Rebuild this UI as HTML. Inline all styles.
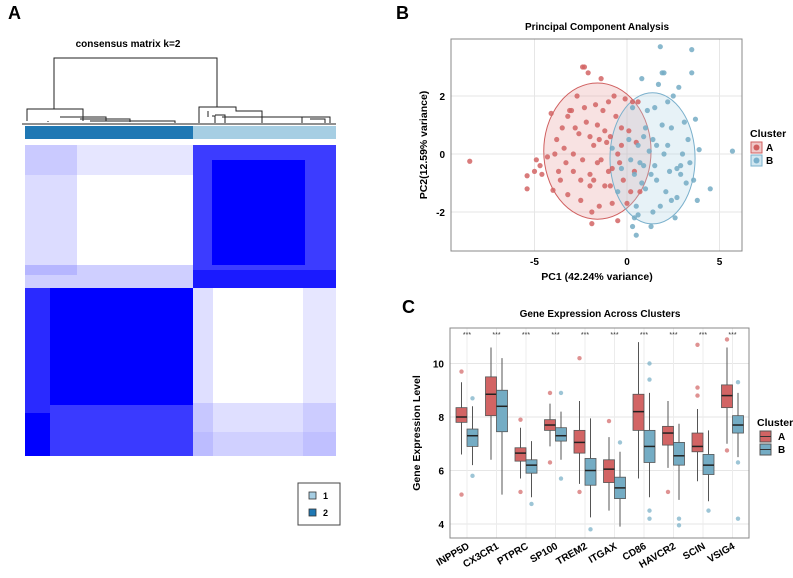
<!DOCTYPE html>
<html><head><meta charset="utf-8">
<style>
html,body{margin:0;padding:0;background:#fff;}
body{width:793px;height:573px;overflow:hidden;font-family:"Liberation Sans",Arial,sans-serif;}
svg text{font-family:"Liberation Sans",Arial,sans-serif;}
</style></head>
<body>
<svg id="fig" width="793" height="573" viewBox="0 0 793 573" xmlns="http://www.w3.org/2000/svg">
<!-- Panel A -->
<g>
<text x="8" y="19" font-size="18" font-weight="bold">A</text>
<text x="128" y="47" font-size="10" font-weight="bold" text-anchor="middle">consensus matrix k=2</text>
<g stroke="#222" stroke-width="1" fill="none">
<path d="M54,109 V58 H217 V107"/>
<path d="M27,121 V109 H83 V121"/>
<path d="M48,121 V122 M60,117 H106 V121 M80,119 H130 V122 M90,121 H175 V123"/>
<path d="M199,123 V107 H236 V111 H262 V123"/>
<path d="M208,111 V117 M212,116 H215 V123 M215,115 H225 V123 M222,117 H330 V123 M302,117 V123 M310,119 H325 V123"/>
<path d="M22,124 H336"/>
</g>
<rect x="25" y="126" width="168" height="13" fill="#1f78b4"/>
<rect x="193" y="126" width="143" height="13" fill="#a6cee3"/>
<g>
<rect x="25" y="145" width="168" height="143" fill="#ffffff"/>
<rect x="25" y="145" width="52" height="130" fill="#8080ff" opacity="0.28"/>
<rect x="25" y="145" width="168" height="30" fill="#8080ff" opacity="0.2"/>
<rect x="25" y="265" width="168" height="23" fill="#6060ff" opacity="0.3"/>
<rect x="193" y="145" width="143" height="143" fill="#3c3cff"/>
<rect x="212" y="160" width="93" height="105" fill="#0000ff"/>
<rect x="193" y="270" width="143" height="18" fill="#1a1aff"/>
<rect x="25" y="288" width="168" height="168" fill="#0000ff"/>
<rect x="25" y="288" width="25" height="125" fill="#2a2aff"/>
<rect x="50" y="405" width="143" height="51" fill="#3a3aff"/>
<rect x="25" y="432" width="25" height="24" fill="#0000ff"/>
<rect x="193" y="288" width="143" height="168" fill="#ffffff"/>
<rect x="193" y="288" width="20" height="168" fill="#8080ff" opacity="0.25"/>
<rect x="303" y="288" width="33" height="168" fill="#8080ff" opacity="0.2"/>
<rect x="193" y="403" width="143" height="53" fill="#8080ff" opacity="0.25"/>
<rect x="193" y="432" width="143" height="24" fill="#8080ff" opacity="0.15"/>
</g>
<g>
<rect x="298" y="483" width="42" height="42" fill="#fff" stroke="#444" stroke-width="1"/>
<rect x="309" y="492" width="7" height="7" fill="#a6cee3" stroke="#333" stroke-width="0.8"/>
<text x="323" y="499" font-size="9" font-weight="bold">1</text>
<rect x="309" y="509" width="7" height="7" fill="#1f78b4" stroke="#333" stroke-width="0.8"/>
<text x="323" y="516" font-size="9" font-weight="bold">2</text>
</g>
</g>
<!-- Panel B -->
<g>
<text x="396" y="19" font-size="18" font-weight="bold">B</text>
<text x="597" y="30" font-size="10" font-weight="bold" text-anchor="middle">Principal Component Analysis</text>
<g id="pcaGrid"></g>
<g id="pcaEll"></g>
<g id="pcaPts"></g>
<rect x="451" y="39" width="291" height="212" fill="none" stroke="#888" stroke-width="1"/>
<g id="pcaTicks" font-size="10" font-weight="bold"></g>
<text x="597" y="280" font-size="10.5" font-weight="bold" text-anchor="middle">PC1 (42.24% variance)</text>
<text transform="translate(427,145) rotate(-90)" font-size="10.5" font-weight="bold" text-anchor="middle">PC2(12.59% variance)</text>
<g>
<text x="750" y="137" font-size="10.5" font-weight="bold">Cluster</text>
<rect x="751" y="142" width="11" height="11" fill="#f0c8c8" stroke="#d06060"/>
<circle cx="756.5" cy="147.5" r="3" fill="#d06060"/>
<text x="766" y="151" font-size="10" font-weight="bold">A</text>
<rect x="751" y="155" width="11" height="11" fill="#d0e6f0" stroke="#7ab0cc"/>
<circle cx="756.5" cy="160.5" r="3" fill="#7ab0cc"/>
<text x="766" y="164" font-size="10" font-weight="bold">B</text>
</g>
</g>
<!-- Panel C -->
<g>
<text x="402" y="313" font-size="18" font-weight="bold">C</text>
<text x="600" y="317" font-size="10" font-weight="bold" text-anchor="middle">Gene Expression Across Clusters</text>
<g id="boxGrid"></g>
<g id="boxMarks"></g>
<rect x="450" y="328" width="299" height="210" fill="none" stroke="#888" stroke-width="1"/>
<g id="boxTicks" font-size="10" font-weight="bold"></g>
<text transform="translate(420,433) rotate(-90)" font-size="10.5" font-weight="bold" text-anchor="middle">Gene Expression Level</text>
<g>
<text x="757" y="426" font-size="10.5" font-weight="bold">Cluster</text>
<rect x="760" y="431" width="11" height="11" fill="#d26464" stroke="#555"/>
<line x1="760" y1="436.5" x2="771" y2="436.5" stroke="#333"/>
<text x="778" y="440" font-size="10" font-weight="bold">A</text>
<rect x="760" y="444" width="11" height="11" fill="#74acc4" stroke="#555"/>
<line x1="760" y1="449.5" x2="771" y2="449.5" stroke="#333"/>
<text x="778" y="453" font-size="10" font-weight="bold">B</text>
</g>
</g>
</svg>
<script>
// ---------- PCA data ----------
const pcaXTicks = [-5, 0, 5];
const pcaYTicks = [-2, 0, 2];
const pcaAx = [-8.5,-5.4,-5.4,-5,-4.9,-4.7,-4.6,-4.1,-4,-3.8,-3.7,-3.6,-3.4,-3.3,-3.2,-3.1,-3,-2.9,-2.8,-2.7,-2.6,-2.5,-2.4,-2.3,-2.2,-2.1,-2,-2,-1.9,-1.9,-1.8,-1.7,-1.6,-1.5,-1.4,-1.4,-1.3,-1.2,-1.1,-1,-0.9,-0.8,-0.7,-0.6,-0.5,-0.4,-0.3,-0.2,-0.1,0,0.2,0.3,0.6,0.7,0.4,-0.5,-1.5,-2.5,-3.2,-2.9,-2,-1,-0.8,-1.6,-1.2,0.1,0.5,-0.3,-2.4,-3.9,-4.3,-1.8,-0.9,-2.3,-3.5];
const pcaAy = [-0.25,-0.75,-1.2,-0.6,-0.2,-0.4,-0.7,1.4,-1.25,0.5,-0.6,-0.9,0.2,-0.3,1.3,1.5,1.5,-0.6,0.9,2,0.7,-0.9,3,3,1.1,2.8,-0.7,-1.1,-2,-2.4,0.3,1.7,1,0.5,2.6,-0.2,1.5,-1.1,0.4,1.8,0.6,-0.5,2,1.3,0,-0.3,0.9,-0.9,1.9,-1.7,-1.3,1.8,1.8,-1.3,-0.6,-2.3,-1.8,-1.6,-1.4,0,0.6,-0.6,-1.7,-0.3,0.8,0.8,0.4,0.3,-0.2,0,-0.1,-0.9,-1.1,1.6,0.9];
const pcaBx = [5.7,4.5,3.9,3.8,3.7,3.6,3.5,3.5,3.4,3.3,3.2,3.1,2.9,2.8,2.7,2.6,2.5,2.4,2.3,2.2,2.1,2,1.9,1.8,1.7,1.6,1.5,1.4,1.3,1.2,1.1,1,0.9,0.8,0.7,0.6,0.5,0.4,0.3,0.3,0.5,0.4,0.2,0.1,0.6,1.3,1.8,2.7,2,1.5,1,2.4,3,1.9,0.8,1.4,-0.5,-0.3,-0.8,2.2,1.6,0.9,2.9];
const pcaBy = [0.1,-1.2,0.15,-1.6,1.2,-0.9,3.6,2.8,-0.3,0.5,-1,1.1,-0.4,2.3,-1.5,-2.2,2,0.9,-0.6,0.3,-1.3,2.8,2.8,3.7,2.4,-0.9,1.6,0.5,-0.7,0.1,1.5,-1.2,0.6,2.6,-0.3,0.3,-1.8,-0.7,1.6,-2.5,-2.8,-2.2,-0.2,0.5,-2.1,-2.5,-1.8,-0.5,0,-0.4,0.9,-1.6,0,1,-1,-2,-1.3,-0.5,0.2,1.8,0.3,-0.4,-0.7];
const ellCx = [-1.6, 1.38];
const ellCy = [0.1, -0.15];
const ellRx = [2.9, 2.3];
const ellRy = [2.35, 2.26];

// ---------- Boxplot data ----------
const genes = ["INPP5D","CX3CR1","PTPRC","SP100","TREM2","ITGAX","CD86","HAVCR2","SCIN","VSIG4"];
const boxYTicks = [4, 6, 8, 10];
const aMed = [8.0,8.85,6.65,7.7,7.05,6.05,8.2,7.4,6.9,8.8];
const aQ1  = [7.8,8.05,6.35,7.5,6.65,5.55,7.5,6.95,6.7,8.35];
const aQ3  = [8.35,9.5,6.85,7.9,7.5,6.4,8.85,7.65,7.4,9.2];
const aLo  = [6.6,6.4,5.7,6.9,5.5,4.5,5.7,6.1,5.6,7.0];
const aHi  = [9.3,10.6,7.6,8.5,8.6,7.25,10.8,8.6,8.3,10.6];
const aOut = [[9.7,5.1],[],[5.2,7.9],[8.9,6.3],[10.2,5.2],[7.85],[],[5.2],[10.7,9.1,8.8],[10.9,6.75]];
const bMed = [7.3,8.4,6.2,7.3,6.0,5.35,6.9,6.55,6.2,7.7];
const bQ1  = [6.9,7.45,5.9,7.1,5.45,4.95,6.3,6.2,5.85,7.4];
const bQ3  = [7.55,9.0,6.4,7.6,6.45,5.75,7.5,7.05,6.6,8.05];
const bLo  = [6.2,5.1,5.0,6.4,4.25,3.9,5.0,4.9,4.85,6.5];
const bHi  = [8.4,10.2,7.1,8.2,7.95,6.7,8.9,7.75,7.5,8.9];
const bOut = [[5.8,8.7],[],[4.75],[8.9,5.7],[3.8],[7.05],[10.0,9.4,4.5,4.2],[4.2,3.95],[4.5],[9.3,6.3,4.2]];

const NS = "http://www.w3.org/2000/svg";
function mk(tag, attrs, parent){const e=document.createElementNS(NS,tag);for(const k in attrs)e.setAttribute(k,attrs[k]);parent.appendChild(e);return e;}

// PCA axes
const pxX = v => 627 + v*18.5;
const pxY = v => 154 - v*29;
const pg = document.getElementById('pcaGrid');
pcaXTicks.forEach(t=>{
  const l=mk('line',{x1:pxX(t),x2:pxX(t),y1:39,y2:251,stroke:'#e6e6e6'},pg);
  
  
});
pcaYTicks.forEach(t=>{
  const l=mk('line',{x1:451,x2:742,y1:pxY(t),y2:pxY(t),stroke:'#e6e6e6'},pg);
  
  
});
const pt = document.getElementById('pcaTicks');
pcaXTicks.forEach(t=>{
  const e=mk('text',{x:pxX(t),y:265,'text-anchor':'middle'},pt); e.textContent=String(t);
  
  
});
pcaYTicks.forEach(t=>{
  const e=mk('text',{x:445,y:pxY(t)+4,'text-anchor':'end'},pt); e.textContent=String(t);
  
  
});
const pe = document.getElementById('pcaEll');
const ellFill=['#e8a0a0','#b0d4e4'], ellStroke=['#d06060','#7ab0cc'];
for(let i=0;i<2;i++){
  const e=mk('ellipse',{cx:pxX(ellCx[i]),cy:pxY(ellCy[i]),rx:ellRx[i]*18.5,ry:ellRy[i]*29,fill:ellFill[i],'fill-opacity':0.3,stroke:ellStroke[i],'stroke-width':1},pe);
  
  
}
const pp = document.getElementById('pcaPts');
pcaAx.forEach((x,i)=>{
  const c=mk('circle',{cx:pxX(x),cy:pxY(pcaAy[i]),r:2.6,fill:'#d26464','fill-opacity':0.85},pp);
  
  
});
pcaBx.forEach((x,i)=>{
  const c=mk('circle',{cx:pxX(x),cy:pxY(pcaBy[i]),r:2.6,fill:'#74acc4','fill-opacity':0.85},pp);
  
  
});

// Boxplot
const byY = v => 524 - (v-4)*26.75;
const bxC = i => 467 + i*29.5;
const bgG = document.getElementById('boxGrid');
boxYTicks.forEach(t=>{
  const l=mk('line',{x1:450,x2:749,y1:byY(t),y2:byY(t),stroke:'#e6e6e6'},bgG);
  
  
});
genes.forEach((g,i)=>{
  const l=mk('line',{x1:bxC(i),x2:bxC(i),y1:328,y2:538,stroke:'#ececec'},bgG);
  
  
});
const bm = document.getElementById('boxMarks');
function drawBox(cx,med,q1,q3,lo,hi,outs,fill,name){
  const w=11;
  const g=mk('g',{},bm);
  
  
  mk('line',{x1:cx,x2:cx,y1:byY(hi),y2:byY(lo),stroke:'#555','stroke-width':1},g);
  mk('rect',{x:cx-w/2,y:byY(q3),width:w,height:byY(q1)-byY(q3),fill:fill,stroke:'#555','stroke-width':0.8},g);
  mk('line',{x1:cx-w/2,x2:cx+w/2,y1:byY(med),y2:byY(med),stroke:'#222','stroke-width':1.5},g);
  outs.forEach(o=>mk('circle',{cx:cx,cy:byY(o),r:2.2,fill:fill,'fill-opacity':0.7},g));
}
genes.forEach((g,i)=>{
  drawBox(bxC(i)-5.5,aMed[i],aQ1[i],aQ3[i],aLo[i],aHi[i],aOut[i],'#d26464','box-a-'+g.toLowerCase());
  drawBox(bxC(i)+5.5,bMed[i],bQ1[i],bQ3[i],bLo[i],bHi[i],bOut[i],'#74acc4','box-b-'+g.toLowerCase());
  const s=mk('text',{x:bxC(i),y:337,'font-size':7,'text-anchor':'middle',fill:'#333'},bm); s.textContent='***';
  
  
});
const bt = document.getElementById('boxTicks');
boxYTicks.forEach(t=>{
  const e=mk('text',{x:444,y:byY(t)+4,'text-anchor':'end'},bt); e.textContent=String(t);
  
  
});
genes.forEach((g,i)=>{
  const x=bxC(i)+3, y=548;
  const e=mk('text',{x:x,y:y,'text-anchor':'end',transform:'rotate(-30 '+x+' '+y+')'},bt); e.textContent=g;
  
  
});
</script>
</body></html>
